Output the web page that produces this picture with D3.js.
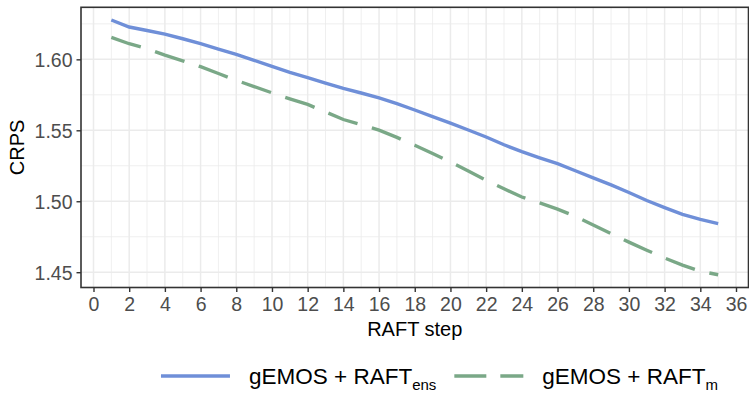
<!DOCTYPE html>
<html><head><meta charset="utf-8">
<script src="https://cdn.jsdelivr.net/npm/d3@7/dist/d3.min.js"></script>
<style>
body{margin:0;background:#fff}
svg, svg text{font-family:"Liberation Sans",Arial,Helvetica,sans-serif}
</style>
</head><body>
<svg id="chart" width="749" height="397" font-family="Liberation Sans, Arial, sans-serif"></svg>
<script>
// ---- data ----
const steps = [1,2,3,4,5,6,7,8,9,10,11,12,13,14,15,16,17,18,19,20,21,22,23,24,25,26,27,28,29,30,31,32,33,34,35];
const crpsEns = [1.6277,1.6228,1.6203,1.6178,1.6145,1.6110,1.6072,1.6035,1.5993,1.5950,1.5908,1.5872,1.5832,1.5795,1.5763,1.5729,1.5688,1.5643,1.5597,1.5550,1.5502,1.5453,1.5398,1.5350,1.5306,1.5265,1.5215,1.5165,1.5115,1.5062,1.5005,1.4955,1.4908,1.4872,1.4843];
const crpsM = [1.6155,1.6110,1.6075,1.6030,1.5990,1.5948,1.5900,1.5852,1.5808,1.5764,1.5722,1.5682,1.5630,1.5576,1.5540,1.5501,1.5450,1.5395,1.5337,1.5277,1.5213,1.5148,1.5088,1.5030,1.4988,1.4945,1.4893,1.4832,1.4772,1.4712,1.4655,1.4600,1.4550,1.4507,1.4482];
const xTicks = [0,2,4,6,8,10,12,14,16,18,20,22,24,26,28,30,32,34,36];
const xMinor = [1,3,5,7,9,11,13,15,17,19,21,23,25,27,29,31,33,35];
const yTicks = [1.45,1.50,1.55,1.60];
const yMinor = [1.475,1.525,1.575,1.625];
const seriesNames = ["ens","m"];
const seriesColors = ["#6F8FD8","#7AA887"];

const FONT = '"Liberation Sans",Arial,sans-serif';
const svg = d3.select("#chart");
const P = {l:81, r:748.5, t:7.3, b:287.5};

function expand(ext){const d=(ext[1]-ext[0])*0.05;return [ext[0]-d,ext[1]+d];}
const x = d3.scaleLinear().domain(expand(d3.extent(steps))).range([P.l,P.r]);
const allY = crpsEns.concat(crpsM);
const y = d3.scaleLinear().domain(expand(d3.extent(allY))).range([P.b,P.t]);

// grid
const g = svg.append("g");
g.selectAll(".xm").data(xMinor).join("line")
 .attr("x1",d=>x(d)).attr("x2",d=>x(d)).attr("y1",P.t).attr("y2",P.b)
 .attr("stroke","#EBEBEB").attr("stroke-width",0.8);
g.selectAll(".ym").data(yMinor).join("line")
 .attr("y1",d=>y(d)).attr("y2",d=>y(d)).attr("x1",P.l).attr("x2",P.r)
 .attr("stroke","#EBEBEB").attr("stroke-width",0.8);
g.selectAll(".xM").data(xTicks).join("line")
 .attr("x1",d=>x(d)).attr("x2",d=>x(d)).attr("y1",P.t).attr("y2",P.b)
 .attr("stroke","#EBEBEB").attr("stroke-width",1.5);
g.selectAll(".yM").data(yTicks).join("line")
 .attr("y1",d=>y(d)).attr("y2",d=>y(d)).attr("x1",P.l).attr("x2",P.r)
 .attr("stroke","#EBEBEB").attr("stroke-width",1.5);

// lines
const line = d3.line().x((d,i)=>x(steps[i])).y(d=>y(d)).curve(d3.curveLinear);
svg.append("path").datum(crpsM).attr("d",line).attr("fill","none")
 .attr("stroke",seriesColors[1]).attr("stroke-width",3.4)
 .attr("stroke-dasharray","31,15");
svg.append("path").datum(crpsEns).attr("d",line).attr("fill","none")
 .attr("stroke",seriesColors[0]).attr("stroke-width",3.4);

// panel border
svg.append("rect").attr("x",P.l).attr("y",P.t).attr("width",P.r-P.l).attr("height",P.b-P.t)
 .attr("fill","none").attr("stroke","#333333").attr("stroke-width",1.6);

// axes
const xAxis = d3.axisBottom(x).tickValues(xTicks).tickSize(4.5).tickPadding(4).tickFormat(d3.format("d"));
const xa = svg.append("g").attr("transform",`translate(0,${P.b})`).call(xAxis);
const yAxis = d3.axisLeft(y).tickValues(yTicks).tickSize(4.5).tickPadding(4).tickFormat(d3.format(".2f"));
const ya = svg.append("g").attr("transform",`translate(${P.l},0)`).call(yAxis);
[xa,ya].forEach(a=>{
  a.attr("font-family",FONT);
  a.select(".domain").remove();
  a.selectAll(".tick line").attr("stroke","#333333").attr("stroke-width",1.4);
  a.selectAll(".tick text").attr("fill","#4D4D4D").style("font-size","19.5px")
   .style("font-family",FONT);
});
xa.selectAll(".tick text").attr("dy","0.75em");
ya.selectAll(".tick text").attr("dy","0.36em");

// axis titles
svg.append("text").attr("x",(P.l+P.r)/2).attr("y",336).attr("text-anchor","middle")
 .style("font-family",FONT).style("font-size","20px").attr("fill","#000").text("RAFT step");
svg.append("text").attr("transform",`translate(23.5,${(P.t+P.b)/2}) rotate(-90)`)
 .attr("text-anchor","middle").style("font-family",FONT).style("font-size","20px").attr("fill","#000").text("CRPS");

// legend
const legY = 376;
const keyW = 69;
const leg = svg.append("g");
const items = [];
seriesNames.forEach((s,i)=>{
  const gi = leg.append("g");
  const k = gi.append("line").attr("x1",0).attr("x2",keyW).attr("y1",legY).attr("y2",legY)
    .attr("stroke",seriesColors[i]).attr("stroke-width",3.6);
  if(i===1) k.attr("stroke-dasharray","32,14");
  const t = gi.append("text").attr("x",keyW+19).attr("y",legY+8)
    .style("font-family",FONT).style("font-size","22.5px").attr("fill","#000");
  t.append("tspan").text("gEMOS + RAFT");
  t.append("tspan").attr("dy",6).style("font-size","15px").text(s);
  items.push({gi, w: keyW+19+t.node().getComputedTextLength()});
});
const gap = 18;
const total = items[0].w + gap + items[1].w;
let cx = 718 - total;
items.forEach(it=>{ it.gi.attr("transform",`translate(${cx},0)`); cx += it.w + gap; });
</script>
</body></html>
